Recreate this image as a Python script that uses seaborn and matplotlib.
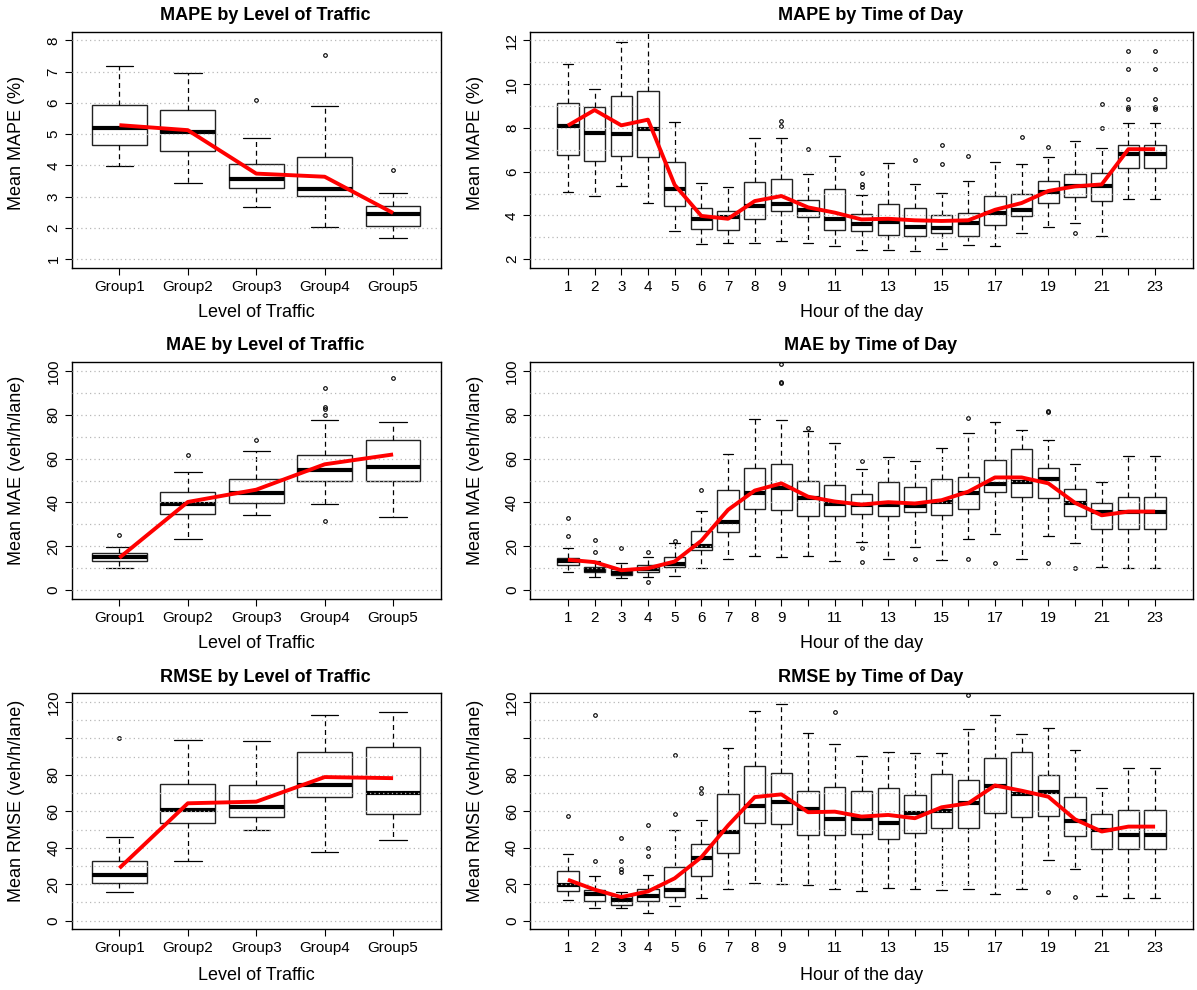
import numpy as np
import matplotlib
matplotlib.use("Agg")
import matplotlib.pyplot as plt
import seaborn as sns

# ---------------- categories ----------------
groups = ["Group1", "Group2", "Group3", "Group4", "Group5"]
hours = list(range(1, 24))

# ---------------- MAPE by level of traffic ----------------
mape_grp_lo = [3.97, 3.44, 2.67, 2.03, 1.69]
mape_grp_q1 = [4.65, 4.45, 3.29, 3.02, 2.07]
mape_grp_med = [5.19, 5.06, 3.56, 3.26, 2.45]
mape_grp_q3 = [5.93, 5.77, 4.06, 4.28, 2.70]
mape_grp_hi = [7.18, 6.96, 4.88, 5.89, 3.12]
mape_grp_out = [[], [], [6.11], [7.52], [3.86]]
mape_grp_mean = [5.29, 5.13, 3.74, 3.64, 2.48]

# ---------------- MAPE by hour ----------------
mape_hr_lo = [5.07, 4.89, 5.37, 4.55, 3.29, 2.71, 2.74, 2.74, 2.82, 2.76, 2.62, 2.43,
              2.43, 2.36, 2.47, 2.67, 2.61, 3.20, 3.49, 3.67, 3.05, 4.74, 4.74]
mape_hr_q1 = [6.77, 6.48, 6.73, 6.68, 4.45, 3.38, 3.34, 3.82, 4.20, 3.91, 3.34, 3.31,
              3.12, 3.08, 3.20, 3.08, 3.58, 3.96, 4.55, 4.83, 4.64, 6.19, 6.19]
mape_hr_med = [8.08, 7.79, 7.74, 7.96, 5.22, 3.85, 3.93, 4.45, 4.52, 4.23, 3.84, 3.61,
               3.70, 3.49, 3.43, 3.64, 4.13, 4.23, 5.09, 5.34, 5.37, 6.83, 6.83]
mape_hr_q3 = [9.13, 8.95, 9.48, 9.67, 6.44, 4.34, 4.20, 5.51, 5.69, 4.69, 5.22, 4.07,
              4.51, 4.36, 4.02, 4.13, 4.90, 4.99, 5.57, 5.91, 5.95, 7.21, 7.21]
mape_hr_hi = [10.91, 9.77, 11.94, 12.80, 8.26, 5.47, 5.30, 7.52, 7.55, 5.91, 6.73, 4.95,
              6.38, 5.42, 5.02, 5.57, 6.44, 6.35, 6.68, 7.40, 7.08, 8.22, 8.22]
mape_hr_out = [[], [], [], [], [], [], [], [], [8.08, 8.34], [7.02], [], [5.30, 5.43, 5.95],
               [], [6.53], [6.35, 7.24], [6.73], [], [7.61], [7.15], [3.20], [7.99, 9.10],
               [8.85, 8.98, 9.31, 10.69, 11.51], [8.85, 8.98, 9.31, 10.69, 11.51]]
mape_hr_mean = [8.11, 8.82, 8.12, 8.38, 5.40, 3.98, 3.85, 4.66, 4.89, 4.37, 4.13, 3.82,
                3.85, 3.78, 3.75, 3.78, 4.26, 4.57, 5.12, 5.33, 5.42, 7.03, 7.03]

# ---------------- MAE by level of traffic ----------------
mae_grp_lo = [10.2, 23.1, 34.3, 39.2, 33.4]
mae_grp_q1 = [13.0, 34.9, 39.6, 49.8, 49.8]
mae_grp_med = [15.0, 39.1, 44.2, 54.6, 56.1]
mae_grp_q3 = [16.8, 44.8, 50.5, 61.8, 68.6]
mae_grp_hi = [19.7, 54.0, 63.7, 77.8, 76.8]
mae_grp_out = [[25.2], [61.8], [68.7], [31.4, 79.8, 82.5, 83.5, 92.3], [97.0]]
mae_grp_mean = [14.7, 40.2, 45.8, 57.4, 61.9]

# ---------------- MAE by hour ----------------
mae_hr_lo = [8.3, 5.8, 5.3, 5.9, 6.2, 10.2, 14.0, 15.5, 14.9, 15.5, 13.0, 22.0,
             14.1, 19.7, 13.7, 23.5, 25.6, 14.0, 24.6, 21.4, 10.5, 10.2, 10.2]
mae_hr_q1 = [11.2, 8.0, 6.8, 8.3, 10.6, 18.1, 26.6, 36.9, 36.3, 33.8, 33.8, 34.9,
             33.8, 35.4, 34.3, 37.2, 44.8, 42.5, 42.2, 33.8, 27.9, 27.9, 27.9]
mae_hr_med = [13.2, 9.0, 7.9, 9.7, 12.0, 20.2, 31.0, 44.2, 46.4, 42.2, 39.2, 39.0,
              38.7, 38.2, 40.2, 44.5, 48.4, 49.3, 50.7, 39.6, 35.5, 35.8, 35.8]
mae_hr_q3 = [14.4, 10.5, 9.4, 11.5, 14.9, 26.9, 45.7, 55.5, 57.4, 49.8, 47.8, 44.0,
             49.2, 46.9, 50.7, 51.7, 59.3, 64.6, 55.5, 46.3, 39.9, 42.5, 42.5]
mae_hr_hi = [19.0, 13.0, 12.1, 14.9, 21.4, 36.1, 61.9, 78.1, 77.7, 72.5, 67.1, 55.1,
             60.8, 58.9, 64.8, 71.8, 76.9, 73.0, 68.7, 57.5, 49.3, 61.3, 61.3]
mae_hr_out = [[24.6, 32.8], [17.5, 22.8], [19.1], [3.5, 17.5], [22.5], [45.5], [], [],
              [94.6, 94.8, 103.3], [74.2], [], [12.6, 19.3, 59.0], [], [14.1], [],
              [14.1, 78.6], [12.1], [], [12.1, 81.4, 81.8], [10.0], [], [], []]
mae_hr_mean = [13.8, 12.7, 9.0, 9.9, 13.0, 22.5, 36.6, 45.4, 48.7, 42.6, 40.4, 39.0,
               40.1, 39.5, 41.0, 44.9, 51.4, 51.4, 48.7, 39.8, 34.1, 35.8, 35.8]

# ---------------- RMSE by level of traffic ----------------
rmse_grp_lo = [15.5, 32.5, 49.6, 37.6, 44.5]
rmse_grp_q1 = [20.6, 53.8, 56.7, 67.8, 58.5]
rmse_grp_med = [24.8, 60.9, 62.6, 74.2, 70.2]
rmse_grp_q3 = [32.8, 75.1, 74.6, 92.6, 95.4]
rmse_grp_hi = [46.1, 99.0, 98.5, 113.1, 114.7]
rmse_grp_out = [[100.1], [], [], [], []]
rmse_grp_mean = [28.8, 64.4, 65.3, 78.8, 78.2]

# ---------------- RMSE by hour ----------------
rmse_hr_lo = [11.5, 6.9, 6.9, 4.4, 7.8, 12.6, 17.3, 20.8, 20.1, 19.5, 17.3, 16.2,
              17.7, 17.3, 16.6, 17.3, 14.8, 17.3, 33.4, 28.5, 13.7, 12.6, 12.6]
rmse_hr_q1 = [16.0, 10.8, 8.6, 10.8, 13.1, 24.3, 37.2, 53.8, 53.3, 46.9, 46.9, 47.6,
              45.0, 48.0, 50.7, 50.7, 58.9, 56.7, 57.3, 46.3, 39.4, 39.4, 39.4]
rmse_hr_med = [19.5, 14.4, 11.3, 13.3, 17.0, 34.5, 48.7, 62.7, 65.1, 61.5, 55.6, 55.6,
               53.4, 59.1, 60.2, 64.4, 73.7, 69.5, 70.8, 54.5, 49.8, 47.1, 47.1]
rmse_hr_q3 = [27.0, 16.6, 13.3, 17.1, 29.4, 42.1, 69.3, 85.0, 80.8, 71.1, 73.5, 71.1,
              73.0, 68.8, 80.4, 77.0, 89.0, 92.6, 79.9, 67.7, 58.4, 60.7, 60.7]
rmse_hr_hi = [36.5, 24.3, 15.5, 24.8, 49.6, 55.4, 95.0, 115.3, 119.1, 103.2, 96.7, 90.5,
              92.8, 92.1, 92.1, 105.2, 113.1, 102.7, 106.0, 93.4, 72.6, 83.9, 83.9]
rmse_hr_out = [[57.5], [32.8, 113.1], [26.4, 28.3, 32.8, 45.6], [35.6, 39.9, 52.7],
               [58.4, 91.0], [70.0, 72.8], [], [], [], [], [114.7], [], [], [], [],
               [123.8], [], [], [15.5], [13.1], [], [], []]
rmse_hr_mean = [22.4, 17.0, 12.9, 16.0, 23.2, 34.8, 52.2, 67.8, 69.3, 59.5, 59.8, 57.1,
                58.0, 56.2, 62.2, 64.4, 74.2, 71.3, 68.0, 55.6, 48.9, 51.6, 51.6]

# ---------------- axis text ----------------
mape_ticks = [1, 2, 3, 4, 5, 6, 7, 8]
mape_hr_ticks = [2, 4, 6, 8, 10, 12]
mae_ticks = [0, 20, 40, 60, 80, 100]
rmse_ticks = [0, 20, 40, 60, 80, 100, 120]
rmse_tick_labels = ["0", "20", "40", "60", "80", "", "120"]
hour_labels = [str(h) if (h <= 9 or h % 2 == 1) else "" for h in hours]

# ---------------- style ----------------
sns.set_style("white")
plt.rcParams["font.family"] = ["Liberation Sans", "DejaVu Sans"]
plt.rcParams["text.color"] = "black"
plt.rcParams["axes.labelcolor"] = "black"

W, H = 1197, 990
fig = plt.figure(figsize=(W / 100, H / 100), dpi=100)


def px_rect(x0, y0, x1, y1):
    return [x0 / W, 1 - y1 / H, (x1 - x0) / W, (y1 - y0) / H]


def ftext(x, y, s, **kw):
    fig.text(x / W, 1 - y / H, s, **kw)


def panel(ax, cats, lo, q1, med, q3, hi, out, mean, ylim, yticks, ylabels,
          grid_step, xlabels):
    n = len(cats)
    pos = np.arange(1, n + 1)
    stats = [dict(whislo=lo[i], q1=q1[i], med=med[i], q3=q3[i], whishi=hi[i],
                  fliers=out[i]) for i in range(n)]
    ax.bxp(stats, positions=pos, widths=0.8, capwidths=0.4, patch_artist=True,
           manage_ticks=False,
           boxprops=dict(facecolor="white", edgecolor="#222222", linewidth=1.0),
           medianprops=dict(color="black", linewidth=3.0, solid_capstyle="butt"),
           whiskerprops=dict(color="black", linewidth=0.9, linestyle=(0, (4, 3))),
           capprops=dict(color="black", linewidth=0.9),
           flierprops=dict(marker="o", markersize=2.6, markerfacecolor="none",
                           markeredgecolor="black", markeredgewidth=0.8))
    # dotted reference lines over the boxes
    for g in np.arange(ylim[0], ylim[1] + 1e-9, grid_step):
        ax.axhline(g, color="#b8b8b8", linewidth=0.9, linestyle=(0, (1, 2.5)),
                   zorder=3)
    # mean profile
    sns.lineplot(x=pos, y=mean, ax=ax, color="red", linewidth=2.8, zorder=6,
                 solid_capstyle="butt")
    span = ylim[1] - ylim[0]
    ax.set_ylim(ylim[0] - 0.04 * span, ylim[1] + 0.04 * span)
    ax.set_xlim(0.5 - 0.04 * n, n + 0.5 + 0.04 * n)
    ax.set_xticks(pos)
    ax.set_xticklabels(xlabels)
    ax.set_yticks(yticks)
    ax.set_yticklabels(ylabels)
    ax.set_xlabel("")
    ax.set_ylabel("")
    ax.tick_params(axis="both", direction="out", length=5, width=0.8,
                   color="black", labelsize=11, labelcolor="black",
                   bottom=True, left=True)
    ax.tick_params(axis="x", pad=3.5)
    ax.tick_params(axis="y", pad=3, labelrotation=90)
    for lbl in ax.get_yticklabels():
        lbl.set_va("center")
    for sp in ax.spines.values():
        sp.set_color("black")
        sp.set_linewidth(1.0)
        sp.set_visible(True)


cols = [(71.5, 441.0), (530.0, 1193.0)]
rows = [(31.7, 268.0), (362.3, 598.7), (693.3, 929.3)]
title_y = [15, 346, 678]
xlab_y = [313, 643, 975]
ylab_y = [142.5, 470.7, 800.5]
ylab_x = [17, 476]

panels = [
    [dict(cats=groups, lo=mape_grp_lo, q1=mape_grp_q1, med=mape_grp_med, q3=mape_grp_q3,
          hi=mape_grp_hi, out=mape_grp_out, mean=mape_grp_mean, ylim=(1, 8),
          yticks=mape_ticks, ylabels=[str(t) for t in mape_ticks], grid_step=1,
          xlabels=groups, title="MAPE by Level of Traffic", xlab="Level of Traffic",
          ylab="Mean MAPE (%)"),
     dict(cats=hours, lo=mape_hr_lo, q1=mape_hr_q1, med=mape_hr_med, q3=mape_hr_q3,
          hi=mape_hr_hi, out=mape_hr_out, mean=mape_hr_mean, ylim=(2, 12),
          yticks=mape_hr_ticks, ylabels=[str(t) for t in mape_hr_ticks], grid_step=1,
          xlabels=hour_labels, title="MAPE by Time of Day", xlab="Hour of the day",
          ylab="Mean MAPE (%)")],
    [dict(cats=groups, lo=mae_grp_lo, q1=mae_grp_q1, med=mae_grp_med, q3=mae_grp_q3,
          hi=mae_grp_hi, out=mae_grp_out, mean=mae_grp_mean, ylim=(0, 100),
          yticks=mae_ticks, ylabels=[str(t) for t in mae_ticks], grid_step=10,
          xlabels=groups, title="MAE by Level of Traffic", xlab="Level of Traffic",
          ylab="Mean MAE (veh/h/lane)"),
     dict(cats=hours, lo=mae_hr_lo, q1=mae_hr_q1, med=mae_hr_med, q3=mae_hr_q3,
          hi=mae_hr_hi, out=mae_hr_out, mean=mae_hr_mean, ylim=(0, 100),
          yticks=mae_ticks, ylabels=[str(t) for t in mae_ticks], grid_step=10,
          xlabels=hour_labels, title="MAE by Time of Day", xlab="Hour of the day",
          ylab="Mean MAE (veh/h/lane)")],
    [dict(cats=groups, lo=rmse_grp_lo, q1=rmse_grp_q1, med=rmse_grp_med, q3=rmse_grp_q3,
          hi=rmse_grp_hi, out=rmse_grp_out, mean=rmse_grp_mean, ylim=(0, 120),
          yticks=rmse_ticks, ylabels=rmse_tick_labels, grid_step=10,
          xlabels=groups, title="RMSE by Level of Traffic", xlab="Level of Traffic",
          ylab="Mean RMSE (veh/h/lane)"),
     dict(cats=hours, lo=rmse_hr_lo, q1=rmse_hr_q1, med=rmse_hr_med, q3=rmse_hr_q3,
          hi=rmse_hr_hi, out=rmse_hr_out, mean=rmse_hr_mean, ylim=(0, 120),
          yticks=rmse_ticks, ylabels=rmse_tick_labels, grid_step=10,
          xlabels=hour_labels, title="RMSE by Time of Day", xlab="Hour of the day",
          ylab="Mean RMSE (veh/h/lane)")],
]

for r, (y0, y1) in enumerate(rows):
    for c, (x0, x1) in enumerate(cols):
        spec = panels[r][c]
        ax = fig.add_axes(px_rect(x0, y0, x1, y1))
        panel(ax, spec["cats"], spec["lo"], spec["q1"], spec["med"], spec["q3"],
              spec["hi"], spec["out"], spec["mean"], spec["ylim"], spec["yticks"],
              spec["ylabels"], spec["grid_step"], spec["xlabels"])
        xc = (x0 + x1) / 2
        ftext(xc + 9, title_y[r], spec["title"], ha="center", va="center",
              fontsize=13, fontweight="bold", color="black")
        ftext(xc, xlab_y[r], spec["xlab"], ha="center", va="center", fontsize=13,
              color="black")
        ftext(ylab_x[c], ylab_y[r], spec["ylab"], ha="center", va="center",
              fontsize=13, rotation=90, color="black")

fig.savefig("out.png", dpi=100, facecolor="white")
